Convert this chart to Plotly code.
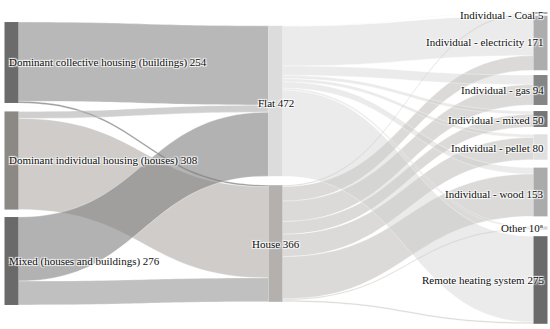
import plotly.graph_objects as go

# ---- data ----
source_names = ["Dominant collective housing (buildings)",
                "Dominant individual housing (houses)",
                "Mixed (houses and buildings)"]
mid_names = ["Flat", "House"]
target_names = ["Individual - Coal", "Individual - electricity", "Individual - gas",
                "Individual - mixed", "Individual - pellet", "Individual - wood",
                "Other", "Remote heating system"]

# district type -> dwelling type  (Flat, House)
to_flat = [249, 22, 201]
to_house = [5, 286, 75]

# dwelling type -> heating system
flat_to = [1, 125, 30, 10, 10, 20, 6, 270]
house_to = [4, 46, 64, 40, 70, 133, 4, 5]

# ---- build nodes / links ----
names = source_names + mid_names + target_names
n_src = len(source_names)
FLAT, HOUSE = n_src, n_src + 1
t0 = n_src + 2

src, tgt, val, lcol = [], [], [], []
src_link_cols = [
    ("rgba(150,150,150,0.68)", "rgba(120,120,120,0.8)"),
    ("rgba(175,175,175,0.6)", "rgba(178,173,168,0.62)"),
    ("rgba(130,130,130,0.62)", "rgba(165,165,165,0.7)"),
]
for i in range(n_src):
    src += [i, i]; tgt += [FLAT, HOUSE]; val += [to_flat[i], to_house[i]]
    lcol += list(src_link_cols[i])
for j in range(len(target_names)):
    src += [FLAT, HOUSE]; tgt += [t0 + j, t0 + j]; val += [flat_to[j], house_to[j]]
    lcol += ["rgba(205,205,205,0.4)", "rgba(175,172,168,0.45)"]

totals = [0] * len(names)
for s, t, v in zip(src, tgt, val):
    totals[t] += v
for i in range(n_src):
    totals[i] = to_flat[i] + to_house[i]

labels = [f"{n} {int(v)}" for n, v in zip(names, totals)]
labels[names.index("Other")] = f"Other {totals[names.index('Other')]}ª"

node_colors = ["#6b6b6b", "#8c8884", "#6a6a6a",
               "#dcdcdc", "#b3b0ad",
               "#9a9a9a", "#adadad", "#858585", "#757575", "#e0e0e0", "#ababab",
               "#d5d5d5", "#6a6a6a"]

# ---- geometry (pixels in the 550x329 page) ----
W, H, T = 550, 323, 2
node_x_px = [11.5] * 3 + [275.5] * 2 + [540.5] * 8
node_y_px = [62.5, 160.5, 261, 101, 243.5, 13, 43, 90, 119, 147, 192, 228, 280]
label_y_px = [62.5, 160.5, 261, 102.5, 243.5, 15, 42, 90, 120, 148, 194, 228, 280]
node_x = [x / W for x in node_x_px]
node_y = [(y - T) / H for y in node_y_px]

fig = go.Figure(go.Sankey(
    arrangement="fixed",
    node=dict(label=[""] * len(names), customdata=labels,
              hovertemplate="%{customdata}<extra></extra>",
              color=node_colors, pad=8, thickness=14,
              line=dict(width=0), x=node_x, y=node_y),
    link=dict(source=src, target=tgt, value=val, color=lcol,
              line=dict(color="rgba(255,255,255,0.7)", width=0.5)),
))

# node labels as text placed from node positions
shadow = "1px 1px 1px #fff, -1px -1px 1px #fff, 1px -1px 1px #fff, -1px 1px 1px #fff"
col_of = [0] * 3 + [1] * 2 + [2] * 8
for i, lab in enumerate(labels):
    c = col_of[i]
    if c == 0:
        xa, xp = "left", node_x_px[i] - 5
    elif c == 1:
        xa, xp = "center", node_x_px[i]
    else:
        xa, xp = "right", node_x_px[i] + 5
    fig.add_annotation(x=xp / W, y=1 - (label_y_px[i] - T) / H, xref="paper", yref="paper",
                       text=lab, showarrow=False, xanchor=xa, yanchor="middle",
                       font=dict(family="Liberation Serif", size=11, color="#111",
                                 shadow=shadow))

fig.update_layout(width=550, height=329,
                  margin=dict(l=0, r=0, t=T, b=329 - H - T),
                  paper_bgcolor="white", plot_bgcolor="white")
fig.write_html("out.html", config={"displayModeBar": False},
               post_script="document.body.style.margin='0';document.body.style.overflow='hidden';")
